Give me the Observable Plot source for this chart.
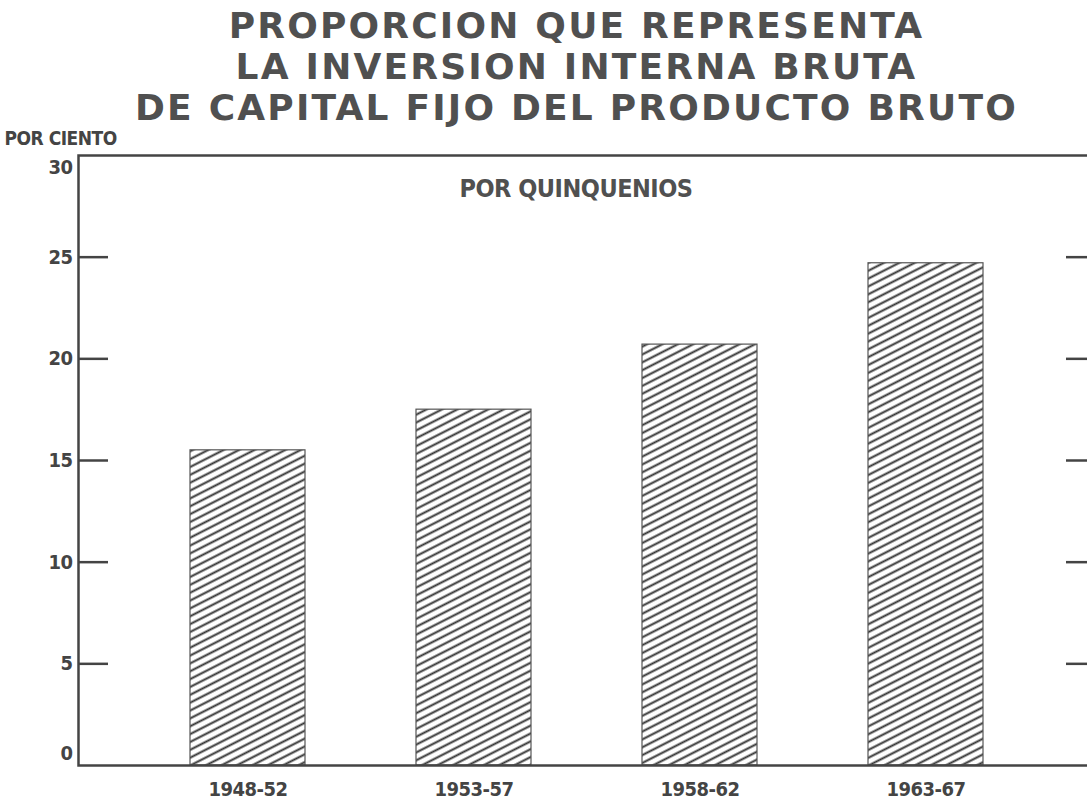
<!DOCTYPE html>
<html><head><meta charset="utf-8">
<script src="https://cdn.jsdelivr.net/npm/d3@7"></script>
<script src="https://cdn.jsdelivr.net/npm/@observablehq/plot@0.6"></script>
<style>
html,body{margin:0;padding:0;background:#fff;overflow:hidden;width:1087px;height:801px}
#title{height:120px;box-sizing:border-box;padding-top:5px;padding-left:66px;text-align:center;font-family:"DejaVu Sans",sans-serif;font-weight:bold;font-size:36px;line-height:41px;color:#505050;letter-spacing:2.2px;white-space:nowrap;overflow:visible}
#chart svg{overflow:hidden}
</style></head><body>
<div id="title"><div>PROPORCION QUE REPRESENTA</div><div>LA INVERSION INTERNA BRUTA</div><div>DE CAPITAL FIJO DEL PRODUCTO BRUTO</div></div>
<div id="chart"></div>
<script>
const periods = ["1948-52", "1953-57", "1958-62", "1963-67"];
const shares = [15.5, 17.5, 20.7, 24.7];
const yTicks = [0, 5, 10, 15, 20, 25, 30];
const rightTicks = [5, 10, 15, 20, 25];
const yLabel = "POR CIENTO";
const subtitle = "POR QUINQUENIOS";

const data = periods.map((p, i) => ({period: p, share: shares[i]}));
const narrow = '"Liberation Sans Narrow", "DejaVu Sans Condensed", sans-serif';
const ink = "#444";

const hatchDefs = () => {
  const ns = "http://www.w3.org/2000/svg";
  const defs = document.createElementNS(ns, "defs");
  defs.innerHTML = `<pattern id="hatch" patternUnits="userSpaceOnUse" width="10" height="7" patternTransform="rotate(-27)"><rect width="10" height="7" fill="white"/><line x1="0" y1="3.5" x2="10" y2="3.5" stroke="#333" stroke-width="2"/></pattern>`;
  return defs;
};

const midTicks = yTicks.filter(d => d > 0 && d < 30);

const chart = Plot.plot({
  width: 1087,
  height: 681,
  marginLeft: 78,
  marginRight: -8,
  marginTop: 35,
  marginBottom: 36,
  style: {fontFamily: narrow, fontWeight: "bold", color: ink, background: "transparent", overflow: "hidden", letterSpacing: "-0.5px"},
  x: {domain: periods, paddingInner: 0.49, paddingOuter: 0.49},
  y: {domain: [0, 30]},
  marks: [
    hatchDefs,
    Plot.barY(data, {x: "period", y: "share", fill: "url(#hatch)", stroke: "#555", strokeWidth: 1.2}),
    Plot.frame({stroke: ink, strokeWidth: 2.5}),
    Plot.tickY(midTicks, {y: d => d, stroke: ink, strokeWidth: 2.5, insetRight: 987}),
    Plot.tickY(rightTicks, {y: d => d, stroke: ink, strokeWidth: 2.5, insetLeft: 988}),
    Plot.axisY({ticks: midTicks, tickSize: 0, tickPadding: 6, fontSize: 20, label: null}),
    Plot.axisY({ticks: [30], tickSize: 0, tickPadding: 6, fontSize: 20, label: null, dy: 12}),
    Plot.axisY({ticks: [0], tickSize: 0, tickPadding: 6, fontSize: 20, label: null, dy: -12}),
    Plot.axisX({tickSize: 0, tickPadding: 16, fontSize: 20, label: null}),
    Plot.text([yLabel], {frameAnchor: "top-left", lineAnchor: "middle", dx: -74, dy: -17, textAnchor: "start", fontSize: 19, fill: ink}),
    Plot.text([subtitle], {frameAnchor: "top", dx: -11, dy: 24, fontSize: 25, fill: "#505050"})
  ]
});
document.getElementById("chart").appendChild(chart);
</script>
</body></html>
